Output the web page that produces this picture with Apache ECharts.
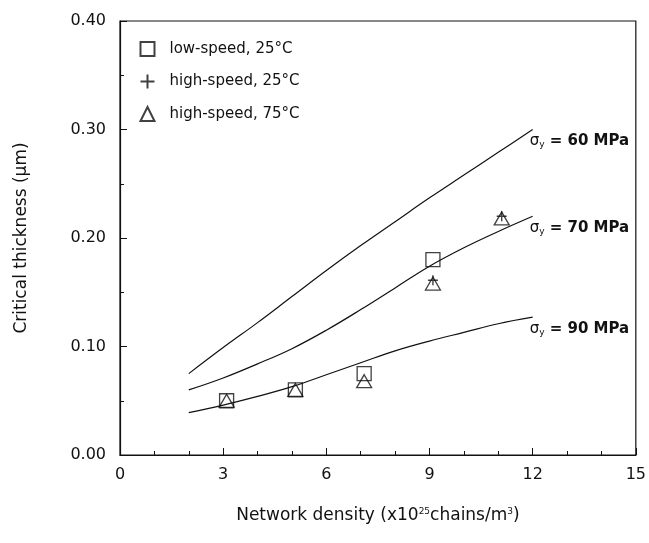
<!DOCTYPE html>
<html>
<head>
<meta charset="utf-8">
<script src="https://cdn.jsdelivr.net/npm/echarts@6/dist/echarts.min.js"></script>
<style>html,body{margin:0;padding:0;background:#fff}#c{width:649px;height:543px}</style>
</head>
<body>
<div id="c"></div>
<script>
// ---- data ----
const curveX = [2, 3, 4, 5, 6, 7, 8, 9, 10, 11, 12];
const curve60 = [0.075, 0.099, 0.122, 0.146, 0.170, 0.193, 0.215, 0.237, 0.258, 0.279, 0.300];
const curve70 = [0.060, 0.071, 0.084, 0.098, 0.115, 0.134, 0.154, 0.174, 0.191, 0.206, 0.220];
const curve90 = [0.039, 0.046, 0.054, 0.063, 0.074, 0.085, 0.096, 0.105, 0.113, 0.121, 0.127];
const curveLabels = ['60', '70', '90'];

const lowSpeed25X = [3.1, 5.1, 7.1, 9.1];
const lowSpeed25Y = [0.050, 0.060, 0.075, 0.180];
const highSpeed25X = [9.1, 11.1];
const highSpeed25Y = [0.161, 0.220];
const highSpeed75X = [3.1, 5.1, 7.1, 9.1, 11.1];
const highSpeed75Y = [0.050, 0.060, 0.068, 0.158, 0.218];

const seriesNames = ['low-speed, 25°C', 'high-speed, 25°C', 'high-speed, 75°C'];
const xTicks = [0, 3, 6, 9, 12, 15];
const yTicks = [0.00, 0.10, 0.20, 0.30, 0.40];

// ---- build ----
const zip = (xs, ys) => xs.map((x, i) => [x, ys[i]]);
const FONT = 'DejaVu Sans, Liberation Sans, Arial, sans-serif';
const plusPath = 'path://M5,0 L5,10 M0,5 L10,5';

function curveSeries(ys, lab) {
  return {
    type: 'line', data: zip(curveX, ys), smooth: 0.4, symbol: 'none',
    lineStyle: { color: '#111', width: 1.2 }, silent: true,
    endLabel: {
      show: true, offset: [-8, 12], distance: 5,
      formatter: '{s|σ}{sub|y}{t| = ' + lab + ' MPa}',
      rich: {
        s: { fontSize: 15, fontFamily: FONT, color: '#111' },
        sub: { fontSize: 9, fontFamily: FONT, color: '#111', verticalAlign: 'bottom', padding: [7, 0, 0, 0] },
        t: { fontSize: 15, fontFamily: FONT, color: '#111', fontWeight: 'bold' }
      }
    }
  };
}

const chart = echarts.init(document.getElementById('c'));
chart.setOption({
  animation: false,
  backgroundColor: '#fff',
  grid: { left: 120, right: 13, top: 21, bottom: 88, show: true, borderColor: '#111', borderWidth: 1.2 },
  legend: {
    data: seriesNames, orient: 'vertical', left: 133, top: 36,
    itemWidth: 14, itemHeight: 14, itemGap: 15,
    textStyle: { fontSize: 15, fontFamily: FONT, color: '#111', padding: [0, 0, 0, 10] }
  },
  xAxis: {
    type: 'value', min: 0, max: 15, interval: 3,
    axisLine: { lineStyle: { color: '#111', width: 1.2 } },
    axisTick: { inside: true, length: 7, lineStyle: { color: '#111' } },
    minorTick: { show: true, splitNumber: 3, length: 4, lineStyle: { color: '#111' } },
    splitLine: { show: false },
    axisLabel: { margin: 12, fontSize: 16, fontFamily: FONT, color: '#111',
      formatter: v => xTicks.includes(v) ? String(v) : '' },
    name: '{t|Network density (x10}{sup|25}{t|chains/m}{sup|3}{t|)}',
    nameLocation: 'middle', nameGap: 52,
    nameTextStyle: { rich: {
      t: { fontSize: 17, fontFamily: FONT, color: '#111' },
      sup: { fontSize: 9, fontFamily: FONT, color: '#111', verticalAlign: 'top', padding: [0, 0, 9, 0] }
    } }
  },
  yAxis: {
    type: 'value', min: 0, max: 0.4, interval: 0.1,
    axisLine: { show: true, lineStyle: { color: '#111', width: 1.2 } },
    axisTick: { show: true, inside: true, length: 7, lineStyle: { color: '#111' } },
    minorTick: { show: true, splitNumber: 2, length: 4, lineStyle: { color: '#111' } },
    splitLine: { show: false },
    axisLabel: { margin: 14, fontSize: 16, fontFamily: FONT, color: '#111',
      formatter: v => yTicks.some(t => Math.abs(t - v) < 1e-9) ? v.toFixed(2) : '' },
    name: 'Critical thickness (µm)', nameLocation: 'middle', nameGap: 90,
    nameTextStyle: { fontSize: 17, fontFamily: FONT, color: '#111' }
  },
  series: [
    curveSeries(curve60, curveLabels[0]),
    curveSeries(curve70, curveLabels[1]),
    curveSeries(curve90, curveLabels[2]),
    {
      name: seriesNames[0], type: 'scatter', data: zip(lowSpeed25X, lowSpeed25Y),
      symbol: 'rect', symbolSize: 14,
      itemStyle: { color: 'rgba(255,255,255,0)', borderColor: '#111', borderWidth: 1.3 }
    },
    {
      name: seriesNames[1], type: 'scatter', data: zip(highSpeed25X, highSpeed25Y),
      symbol: plusPath, symbolSize: 10,
      itemStyle: { color: 'none', borderColor: '#111', borderWidth: 1.4 }
    },
    {
      name: seriesNames[2], type: 'scatter', data: zip(highSpeed75X, highSpeed75Y),
      symbol: 'triangle', symbolSize: [15, 13],
      itemStyle: { color: 'rgba(255,255,255,0)', borderColor: '#111', borderWidth: 1.3 }
    }
  ]
});
</script>
</body>
</html>
